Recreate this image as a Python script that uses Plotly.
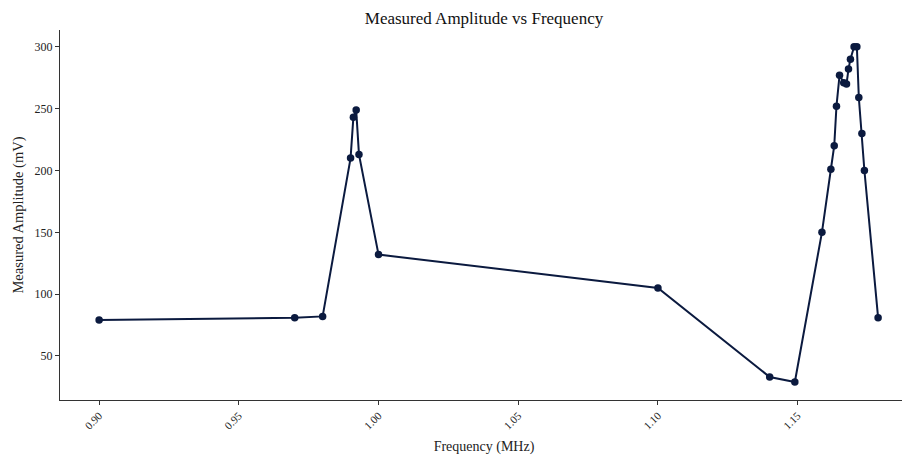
import plotly.graph_objects as go

freq_mhz = [0.90, 0.97, 0.98, 0.990, 0.991, 0.992, 0.993, 1.00, 1.10, 1.14, 1.149,
            1.1587, 1.1619, 1.1631, 1.1639, 1.165, 1.1665, 1.1675, 1.1682, 1.1689,
            1.1702, 1.1712, 1.1719, 1.1730, 1.1739, 1.1788]
amplitude_mv = [79, 81, 82, 210, 243, 249, 213, 132, 105, 33, 29,
                150, 201, 220, 252, 277, 271, 270, 282, 290,
                300, 300, 259, 230, 200, 81]
x_ticks = [0.90, 0.95, 1.00, 1.05, 1.10, 1.15]
x_tick_labels = ["0.90", "0.95", "1.00", "1.05", "1.10", "1.15"]
y_ticks = [50, 100, 150, 200, 250, 300]

color = "#0b1a3f"
font_family = "Liberation Serif, Times New Roman, serif"

fig = go.Figure(go.Scatter(
    x=freq_mhz, y=amplitude_mv, mode="lines+markers",
    line=dict(color=color, width=2),
    marker=dict(color=color, size=7.5),
    showlegend=False,
))

fig.update_layout(
    width=910, height=455,
    paper_bgcolor="white", plot_bgcolor="white",
    margin=dict(l=52, r=10, t=22, b=63, autoexpand=False),
    font=dict(family=font_family, color="#222222"),
    title=dict(text="Measured Amplitude vs Frequency", x=0.5, xanchor="center",
               xref="paper", y=0.978, yref="container", yanchor="middle",
               automargin=False, font=dict(size=17, color="#111111")),
)
fig.update_xaxes(
    range=[0.886, 1.1895], tickvals=x_ticks, ticktext=x_tick_labels, tickangle=-45,
    showgrid=False, zeroline=False, showline=True, linecolor="#333333", linewidth=1,
    ticks="outside", ticklen=4, tickcolor="#333333", tickfont=dict(size=11),
    automargin=True,
    title=dict(text="Frequency (MHz)", font=dict(size=14), standoff=10),
)
fig.update_yaxes(
    range=[14.4, 313.6], tickvals=y_ticks,
    showgrid=False, zeroline=False, showline=True, linecolor="#333333", linewidth=1,
    ticks="outside", ticklen=4, tickcolor="#333333", tickfont=dict(size=12),
    automargin=True,
    title=dict(text="Measured Amplitude (mV)", font=dict(size=14.5), standoff=7),
)

fig.write_html("out.html")
